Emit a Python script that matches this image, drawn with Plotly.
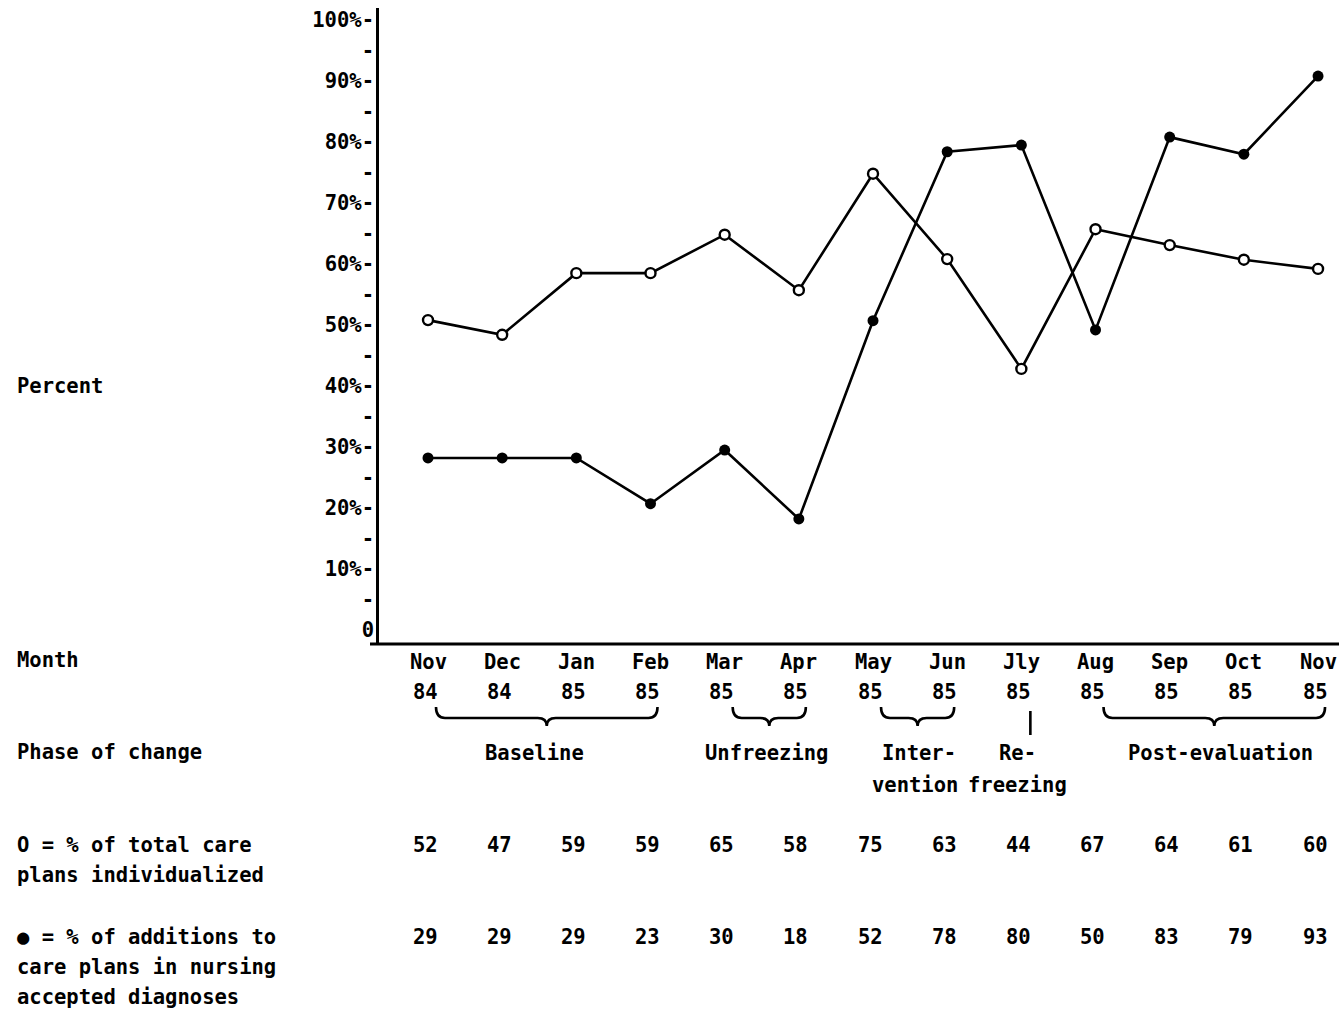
import plotly.graph_objects as go

# ---------------- data ----------------
months = ["Nov", "Dec", "Jan", "Feb", "Mar", "Apr", "May", "Jun", "Jly", "Aug", "Sep", "Oct", "Nov"]
years = ["84", "84", "85", "85", "85", "85", "85", "85", "85", "85", "85", "85", "85"]
# values as plotted on the chart
individualized_plot = [50.8, 48.4, 58.5, 58.5, 64.8, 55.7, 74.8, 60.8, 42.8, 65.7, 63.1, 60.7, 59.2]
additions_plot = [28.2, 28.2, 28.2, 20.7, 29.5, 18.2, 50.7, 78.4, 79.5, 49.2, 80.8, 78.0, 90.8]
# values printed in the table under the chart
individualized_table = [52, 47, 59, 59, 65, 58, 75, 63, 44, 67, 64, 61, 60]
additions_table = [29, 29, 29, 23, 30, 18, 52, 78, 80, 50, 83, 79, 93]
y_ticks = list(range(0, 101, 5))
phases = [("Baseline", 0, 3), ("Unfreezing", 4, 5), ("Inter-|vention", 6, 7),
          ("Re-|freezing", 8, 8), ("Post-evaluation", 9, 12)]

# ---------------- layout constants ----------------
W, H = 1339, 1011
FONT = "DejaVu Sans Mono"
FS = 20.5
X0PX, STEP = 428.0, 74.17        # pixel of first month, pixels per month
Y0PX, PXPER = 630.0, 6.1         # pixel of 0 %, pixels per percent
PLOT_L, PLOT_T, PLOT_B = 379, 8, 644
TXT_FONT = dict(family=FONT, size=FS, color="black", weight="bold")


def xi(px):
    return (px - X0PX) / STEP


x_idx = list(range(len(months)))
tick_text = ["0" if v == 0 else (f"{v}%-" if v % 10 == 0 else "-") for v in y_ticks]

fig = go.Figure()
fig.add_trace(go.Scatter(
    x=x_idx, y=additions_plot, mode="lines+markers", xaxis="x", yaxis="y",
    line=dict(color="black", width=2.6),
    marker=dict(symbol="circle", size=11, color="black"),
    showlegend=False, hoverinfo="skip"))
fig.add_trace(go.Scatter(
    x=x_idx, y=individualized_plot, mode="lines+markers", xaxis="x", yaxis="y",
    line=dict(color="black", width=2.6),
    marker=dict(symbol="circle", size=10, color="white", line=dict(color="black", width=2.4)),
    showlegend=False, hoverinfo="skip"))
# invisible trace for overlay axes
fig.add_trace(go.Scatter(x=[0], y=[0], xaxis="x2", yaxis="y2", mode="markers",
                         marker=dict(opacity=0), showlegend=False, hoverinfo="skip"))

annotations = []
shapes = []


def txt(x, y, s, anchor="center", xshift=0):
    annotations.append(dict(x=x, y=y, xref="x2", yref="y2", text=s, showarrow=False,
                            xanchor=anchor, yanchor="middle", xshift=xshift,
                            font=TXT_FONT))


# left column labels
LX = xi(15)
txt(LX, 386, "Percent", "left")
txt(LX, 660, "Month", "left")
txt(LX, 752, "Phase of change", "left")
txt(LX, 845, "O = % of total care", "left")
txt(LX, 875, "plans individualized", "left")
txt(LX, 937, "● = % of additions to", "left")
txt(LX, 967, "care plans in nursing", "left")
txt(LX, 997, "accepted diagnoses", "left")

# month labels and table values
for i, (m, yv, a, b) in enumerate(zip(months, years, individualized_table, additions_table)):
    txt(i, 662, m)
    txt(i, 692, yv, xshift=-3)
    txt(i, 845, str(a), xshift=-3)
    txt(i, 937, str(b), xshift=-3)

# phase labels and braces
label_shift = {"Baseline": -5, "Unfreezing": 5, "Inter-|vention": 5, "Re-|freezing": -4,
               "Post-evaluation": 14}
for name, s, e in phases:
    mid = (s + e) / 2
    parts = name.split("|")
    sh = label_shift[name]
    txt(mid, 753, parts[0], xshift=sh + (4 if len(parts) > 1 and parts[0] == "Inter-" else 0))
    if len(parts) > 1:
        txt(mid, 785, parts[1], xshift=sh)
    if s == e:
        shapes.append(dict(type="line", xref="x2", yref="y2", x0=s + xi(X0PX + 9), x1=s + xi(X0PX + 9),
                           y0=711, y1=735, line=dict(color="black", width=2.6)))
    else:
        xa = s + 8 / STEP
        xb = e + 7 / STEP
        xm = (xa + xb) / 2
        r = 9 / STEP
        path = (f"M {xa},707 Q {xa},718 {xa + r},718 L {xm - r},718 "
                f"Q {xm},718 {xm},726 Q {xm},718 {xm + r},718 L {xb - r},718 "
                f"Q {xb},718 {xb},707")
        shapes.append(dict(type="path", xref="x2", yref="y2", path=path,
                           line=dict(color="black", width=2.6)))

# x axis baseline (extends a little left of the y axis)
shapes.append(dict(type="line", xref="x2", yref="y2", x0=xi(370), x1=xi(W), y0=PLOT_B, y1=PLOT_B,
                   line=dict(color="black", width=3)))

fig.update_layout(
    width=W, height=H,
    margin=dict(l=0, r=0, t=0, b=0),
    paper_bgcolor="white", plot_bgcolor="rgba(0,0,0,0)",
    font=TXT_FONT,
    xaxis=dict(domain=[PLOT_L / W, 1], anchor="y",
               range=[xi(PLOT_L), xi(W)], showgrid=False, zeroline=False,
               showticklabels=False, ticks="", showline=False),
    yaxis=dict(domain=[(H - PLOT_B) / H, (H - PLOT_T) / H], anchor="x",
               range=[(Y0PX - PLOT_B) / PXPER, (Y0PX - PLOT_T) / PXPER],
               tickvals=y_ticks, ticktext=tick_text, ticks="", showgrid=False, zeroline=False,
               showline=True, linecolor="black", linewidth=2.8, ticklabelstandoff=-2,
               tickfont=TXT_FONT),
    xaxis2=dict(domain=[0, 1], anchor="y2", range=[xi(0), xi(W)], visible=False),
    yaxis2=dict(domain=[0, 1], anchor="x2", range=[H, 0], visible=False),
    annotations=annotations, shapes=shapes,
)

fig.write_html("out.html", config={"displayModeBar": False},
               post_script="document.body.style.margin='0';")
